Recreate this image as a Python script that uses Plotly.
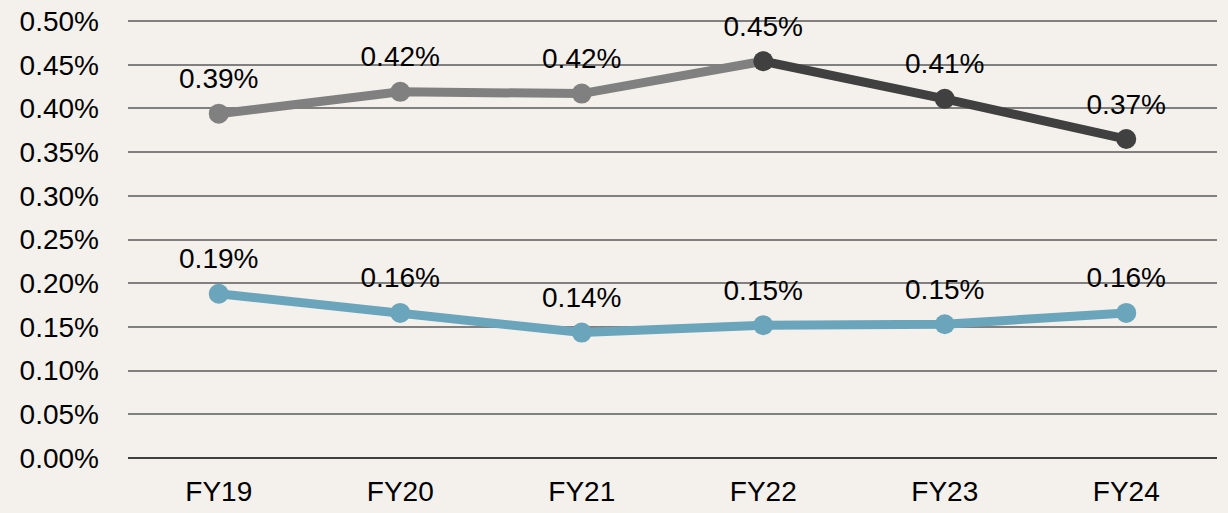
import plotly.graph_objects as go

categories = ["FY19", "FY20", "FY21", "FY22", "FY23", "FY24"]
upper_values = [0.394, 0.419, 0.417, 0.454, 0.411, 0.365]
lower_values = [0.188, 0.166, 0.1435, 0.152, 0.153, 0.166]
upper_labels = ["0.39%", "0.42%", "0.42%", "0.45%", "0.41%", "0.37%"]
lower_labels = ["0.19%", "0.16%", "0.14%", "0.15%", "0.15%", "0.16%"]
tick_vals = [0.0, 0.05, 0.10, 0.15, 0.20, 0.25, 0.30, 0.35, 0.40, 0.45, 0.50]
tick_text = ["0.00%", "0.05%", "0.10%", "0.15%", "0.20%", "0.25%", "0.30%", "0.35%", "0.40%", "0.45%", "0.50%"]

grey = "#808080"
dark = "#404040"
teal = "#6AA5BB"
bg = "#F4F1EC"
font_family = "Liberation Sans, Arial, sans-serif"
label_font = dict(size=28, color="#000000", family=font_family)

fig = go.Figure()

# upper series: grey part FY19-FY22
fig.add_trace(go.Scatter(
    x=categories[:4], y=upper_values[:4], mode="lines+markers",
    line=dict(color=grey, width=9), marker=dict(color=grey, size=20),
    showlegend=False, hoverinfo="skip", cliponaxis=False))
# upper series: dark part FY22-FY24
fig.add_trace(go.Scatter(
    x=categories[3:], y=upper_values[3:], mode="lines+markers",
    line=dict(color=dark, width=9), marker=dict(color=dark, size=20),
    showlegend=False, hoverinfo="skip", cliponaxis=False))
# lower series
fig.add_trace(go.Scatter(
    x=categories, y=lower_values, mode="lines+markers",
    line=dict(color=teal, width=9), marker=dict(color=teal, size=20),
    showlegend=False, hoverinfo="skip", cliponaxis=False))
# labels (invisible spacer markers push the text up)
fig.add_trace(go.Scatter(
    x=categories, y=upper_values, mode="markers+text", text=upper_labels,
    textposition="top center", textfont=label_font, cliponaxis=False,
    marker=dict(size=28, opacity=0), showlegend=False, hoverinfo="skip"))
fig.add_trace(go.Scatter(
    x=categories, y=lower_values, mode="markers+text", text=lower_labels,
    textposition="top center", textfont=label_font, cliponaxis=False,
    marker=dict(size=28, opacity=0), showlegend=False, hoverinfo="skip"))

fig.update_layout(
    width=1228, height=513,
    margin=dict(l=128, r=11, t=20, b=55, autoexpand=False),
    paper_bgcolor=bg, plot_bgcolor=bg,
    font=dict(family=font_family, size=28, color="#000000"),
    xaxis=dict(type="category", range=[-0.5, 5.5], showgrid=False, ticks="",
               showline=False, tickfont=dict(size=28), zeroline=False,
               ticklabelstandoff=14, automargin=False),
    yaxis=dict(range=[0, 0.5012], tickvals=tick_vals, ticktext=tick_text,
               showgrid=True, gridcolor=grey, gridwidth=2,
               zeroline=True, zerolinecolor=dark, zerolinewidth=2,
               tickfont=dict(size=28), ticks="", ticklabelstandoff=28,
               automargin=False),
)

fig.write_html(
    "out.html",
    config={"displayModeBar": False},
    post_script="document.body.style.margin='0';document.body.style.background='%s';" % bg,
)
